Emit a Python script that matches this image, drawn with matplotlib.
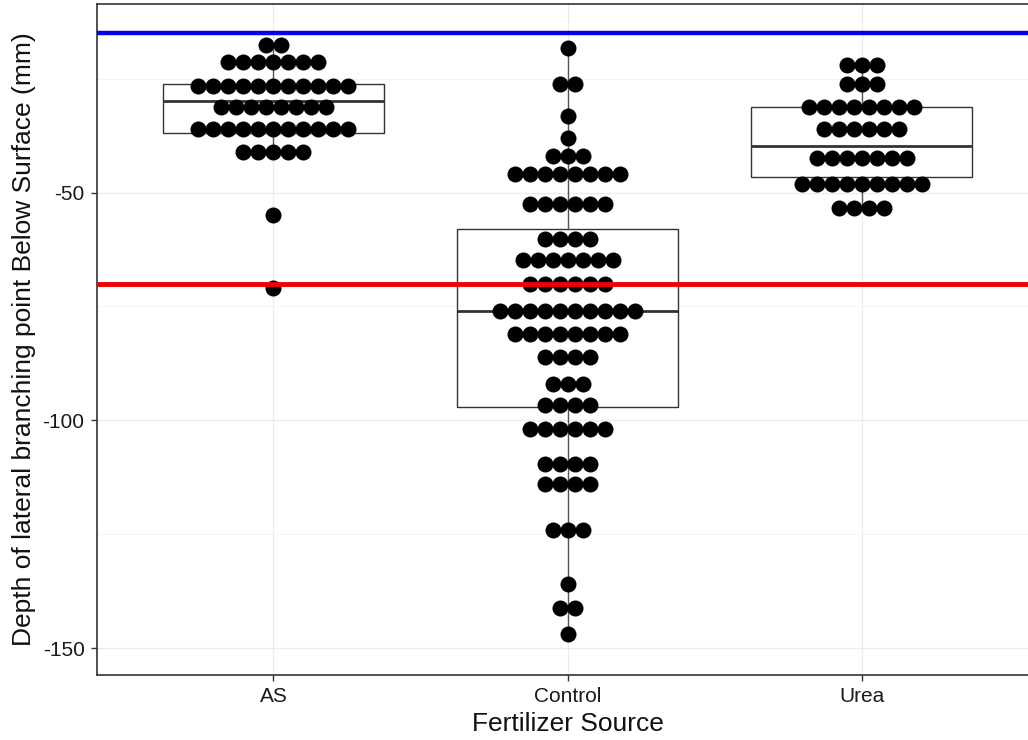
import numpy as np
import matplotlib.pyplot as plt

groups = ['AS', 'Control', 'Urea']

# dot rows: level (mm) and number of dots in that row
as_levels = [-17.6, -21.3, -26.6, -31.2, -36.0, -41.1, -55.0, -70.9]
as_counts = [2, 7, 11, 8, 11, 5, 1, 1]

control_levels = [-18.2, -26.1, -33.1, -38.0, -42.0, -46.0, -52.5, -60.1,
                  -64.9, -70.1, -76.1, -81.0, -86.2, -92.0, -96.6, -101.9,
                  -109.6, -114.0, -124.1, -136.0, -141.1, -146.9]
control_counts = [1, 2, 1, 1, 3, 8, 6, 4, 7, 6, 10, 8, 4, 3, 4, 6, 4, 4, 3,
                  1, 2, 1]

urea_levels = [-22.1, -26.1, -31.2, -36.0, -42.4, -48.1, -53.4]
urea_counts = [3, 3, 8, 6, 7, 9, 4]

# boxplot stats as drawn
box_whislo = [-41.1, -146.9, -53.4]
box_q1 = [-36.9, -97.0, -46.5]
box_med = [-30.0, -76.1, -39.7]
box_q3 = [-26.1, -58.1, -31.2]
box_whishi = [-17.6, -18.2, -22.1]

blue_line = -15
red_line = -70


def main():
    plt.rcParams['font.family'] = ['Liberation Sans', 'DejaVu Sans']
    plt.rcParams['axes.unicode_minus'] = False
    dpi = 100
    fig = plt.figure(figsize=(10.28, 7.40), dpi=dpi)
    # panel runs a little past the right edge, as in the original
    left, right, bottom, top = 97, 1038, 65, 736
    ax = fig.add_axes([left / 1028, bottom / 740,
                       (right - left) / 1028, (top - bottom) / 740])

    xmin, xmax = 0.4, 3.6

    # boxplots
    stats = []
    for i in range(3):
        stats.append({'whislo': box_whislo[i], 'q1': box_q1[i], 'med': box_med[i],
                      'q3': box_q3[i], 'whishi': box_whishi[i], 'fliers': []})
    ax.bxp(stats, positions=[1, 2, 3], widths=0.75, showcaps=False,
           showfliers=False, patch_artist=True,
           boxprops=dict(facecolor='white', edgecolor='#333333', lw=1.0),
           whiskerprops=dict(color='#555555', lw=1.0),
           medianprops=dict(color='#333333', lw=2.0), zorder=2)

    # dots (stacked side by side, centred on the group)
    step_px = 15.0
    dot_px = 16.0
    dx = step_px / ((right - left) / (xmax - xmin))
    size = (dot_px * 72 / dpi) ** 2
    all_levels = [as_levels, control_levels, urea_levels]
    all_counts = [as_counts, control_counts, urea_counts]
    for g in range(3):
        for lev, n in zip(all_levels[g], all_counts[g]):
            xs = g + 1 + (np.arange(n) - (n - 1) / 2) * dx
            ax.scatter(xs, [lev] * n, s=size, color='black', lw=0, zorder=3)

    # reference lines
    ax.axhline(blue_line, color='#0000EE', lw=3.2, zorder=4)
    ax.axhline(red_line, color='#EE0000', lw=3.5, zorder=4)

    ax.set_xlim(xmin, xmax)
    ax.set_ylim(-155.9, -8.6)

    # grid (theme_bw look)
    ax.set_yticks([-50, -100, -150])
    ax.set_yticks([-25, -75, -125], minor=True)
    ax.set_xticks([1, 2, 3])
    ax.set_xticklabels(groups)
    ax.grid(True, which='major', color='#EBEBEB', lw=1.0, zorder=0)
    ax.grid(True, which='minor', axis='y', color='#F4F4F4', lw=0.6, zorder=0)
    ax.set_axisbelow(True)

    for s in ax.spines.values():
        s.set_color('#333333')
        s.set_linewidth(1.2)
    ax.tick_params(which='major', length=4, width=1, color='#333333',
                   labelsize=15, labelcolor='#1a1a1a', pad=5)
    ax.tick_params(which='minor', length=0)

    ax.set_xlabel('Fertilizer Source', fontsize=19, color='#111111', labelpad=4)
    ax.set_ylabel('Depth of lateral branching point Below Surface (mm)',
                  fontsize=19, color='#111111', labelpad=5)

    fig.savefig('out.png', dpi=dpi)


if __name__ == '__main__':
    main()
